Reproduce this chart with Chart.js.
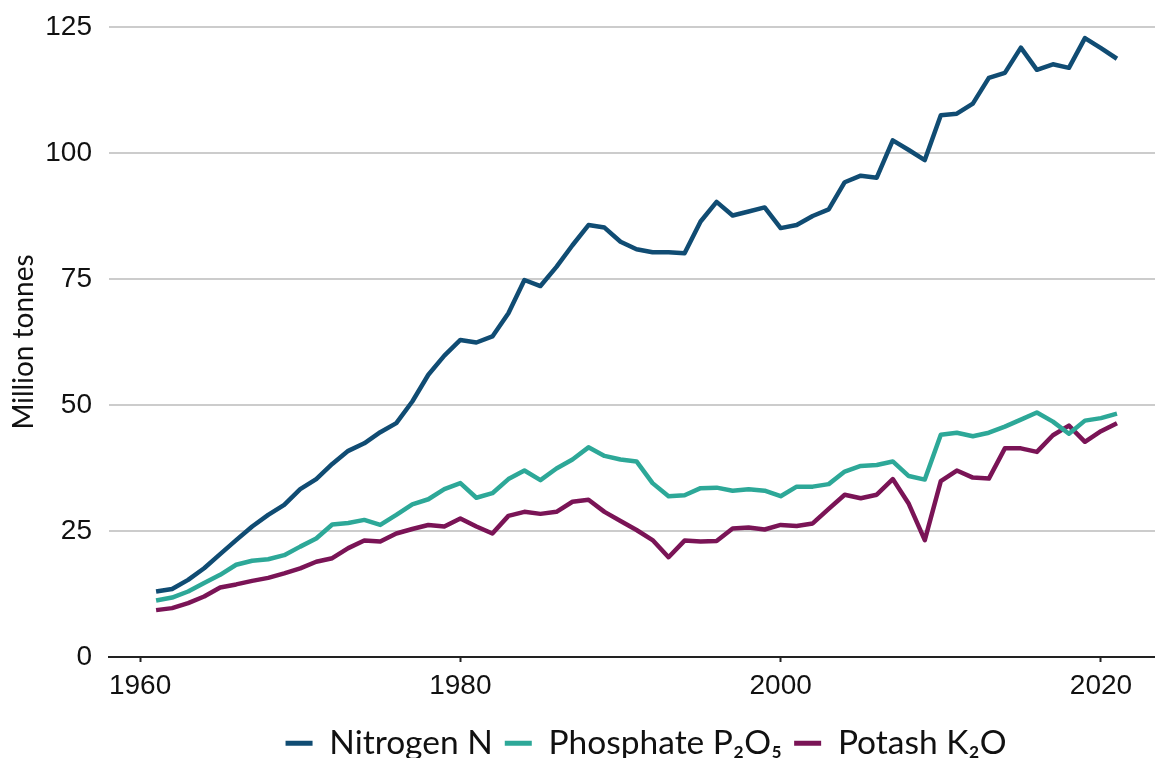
<!DOCTYPE html>
<html>
<head>
<meta charset="utf-8">
<script src="https://cdn.jsdelivr.net/npm/chart.js@4/dist/chart.umd.min.js"></script>
<style>
  html, body { margin: 0; padding: 0; background: #ffffff; overflow: hidden; }
  #wrap { position: relative; width: 1155px; height: 770px; }
</style>
</head>
<body>
<div id="wrap"><canvas id="c"></canvas></div>
<script>
const years = [];
for (let y = 1961; y <= 2021; y++) years.push(y);

const nitrogen = [13.0,13.5,15.3,17.6,20.4,23.2,25.9,28.2,30.2,33.3,35.3,38.3,40.9,42.4,44.6,46.4,50.7,56.0,59.8,62.9,
  62.4,63.6,68.2,74.8,73.6,77.4,81.7,85.7,85.2,82.4,
  80.9,80.3,80.3,80.1,86.4,90.3,87.6,88.4,89.2,85.1,
  85.7,87.5,88.8,94.2,95.5,95.1,102.5,100.6,98.6,107.5,
  107.8,109.8,114.9,115.9,120.9,116.5,117.6,116.9,122.8,120.8,118.7];

const phosphate = [11.2,11.8,13.0,14.7,16.3,18.3,19.1,19.4,20.2,21.9,23.5,26.3,26.6,27.2,26.2,28.2,30.3,31.3,33.3,34.5,
  31.6,32.5,35.3,37.0,35.1,37.4,39.2,41.6,39.9,39.2,
  38.8,34.5,31.9,32.1,33.5,33.6,33.0,33.3,33.0,31.9,
  33.8,33.8,34.3,36.8,37.9,38.1,38.8,35.9,35.2,44.1,
  44.5,43.8,44.5,45.7,47.1,48.5,46.7,44.3,46.9,47.4,48.3];

const potash = [9.3,9.7,10.7,12.0,13.8,14.4,15.1,15.7,16.6,17.6,18.9,19.6,21.6,23.1,22.9,24.5,25.4,26.2,25.9,27.5,
  25.9,24.5,28.0,28.8,28.4,28.8,30.8,31.2,28.8,27.0,
  25.2,23.2,19.8,23.1,22.9,23.0,25.5,25.7,25.3,26.2,
  26.0,26.5,29.4,32.2,31.5,32.2,35.3,30.4,23.2,34.9,
  37.0,35.6,35.4,41.4,41.4,40.7,44.0,45.9,42.7,44.8,46.4];

const seriesNames = ['Nitrogen N', 'Phosphate P\u2082O\u2085', 'Potash K\u2082O'];
const seriesColors = ['#104c73', '#2da898', '#7a1456'];
const xTickValues = [1960, 1980, 2000, 2020];
const yTickValues = [0, 25, 50, 75, 100, 125];
const yTitle = 'Million tonnes';

function pts(arr) { return years.map((yr, i) => ({ x: yr, y: arr[i] })); }
const seriesData = [nitrogen, phosphate, potash];

const datasets = seriesData.map((arr, i) => ({
  label: seriesNames[i],
  data: pts(arr),
  borderColor: seriesColors[i],
  backgroundColor: seriesColors[i],
  borderWidth: 4.5,
  pointRadius: 0,
  tension: 0,
  borderJoinStyle: 'round'
}));

const legendShift = {
  id: 'legendShift',
  afterLayout(chart) {
    if (chart.legend) { chart.legend.left += 14; chart.legend.right += 14; }
  }
};

new Chart(document.getElementById('c'), {
  type: 'line',
  data: { datasets },
  plugins: [legendShift],
  options: {
    responsive: true,
    maintainAspectRatio: false,
    animation: false,
    layout: { padding: { top: 27, right: 0, bottom: 0, left: 0 } },
    plugins: {
      tooltip: { enabled: false },
      legend: {
        position: 'bottom',
        fullSize: false,
        labels: {
          color: '#111111',
          font: { family: 'Lato', size: 33.5 },
          boxWidth: 27,
          boxHeight: 5,
          padding: 12,
          generateLabels(chart) {
            return chart.data.datasets.map((ds, i) => ({
              text: ds.label,
              fillStyle: ds.borderColor,
              strokeStyle: ds.borderColor,
              lineWidth: 0,
              hidden: false,
              datasetIndex: i,
              fontColor: '#111111'
            }));
          }
        }
      }
    },
    scales: {
      x: {
        type: 'linear',
        min: 1958.06,
        max: 2023.375,
        afterBuildTicks(scale) { scale.ticks = xTickValues.map(v => ({ value: v })); },
        afterFit(scale) {
          scale.height = 57.5;
          scale.paddingLeft = 0; scale.paddingRight = 0;
        },
        ticks: {
          color: '#111111',
          font: { family: 'Liberation Sans', size: 28 },
          padding: 7,
          maxRotation: 0,
          autoSkip: false,
          callback: v => String(v)
        },
        grid: {
          drawOnChartArea: false,
          drawTicks: true,
          tickLength: 5,
          tickWidth: 2,
          tickColor: '#222222'
        },
        border: { display: true, color: '#222222', width: 2 }
      },
      y: {
        min: 0,
        max: 125,
        afterBuildTicks(scale) { scale.ticks = yTickValues.map(v => ({ value: v })); },
        afterFit(scale) {
          scale.width = 109;
          scale.paddingTop = 0; scale.paddingBottom = 0;
        },
        ticks: {
          color: '#111111',
          font: { family: 'Liberation Sans', size: 28 },
          padding: 17,
          callback: v => String(v)
        },
        grid: {
          color: '#cccccc',
          lineWidth: 2,
          drawTicks: false
        },
        border: { display: false },
        title: {
          display: true,
          text: yTitle,
          color: '#111111',
          font: { family: 'Lato', size: 28 },
          padding: { top: 7, bottom: 0 }
        }
      }
    }
  }
});
</script>
</body>
</html>
